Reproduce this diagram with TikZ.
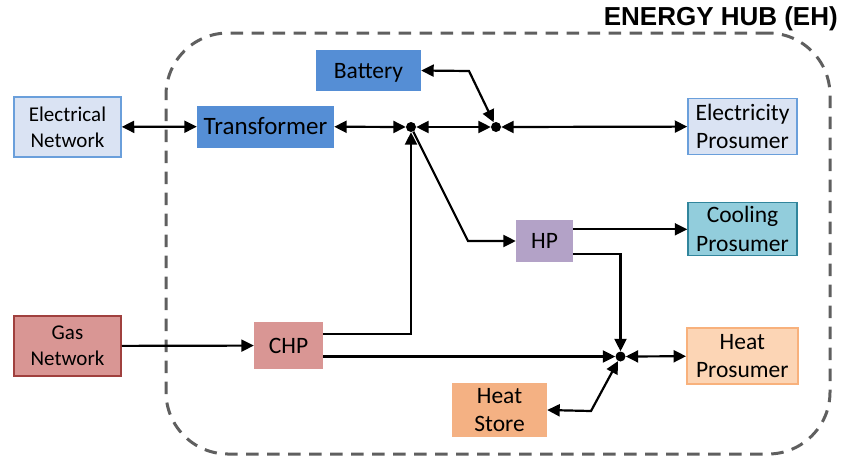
\documentclass[tikz,border=0pt]{standalone}
\usepackage{fontspec}
\setmainfont{Carlito}
\newfontfamily\titlefont{Liberation Sans}
\usetikzlibrary{arrows.meta}

\definecolor{elecfill}{HTML}{DAE3F3}
\definecolor{elecline}{HTML}{6A9FDB}
\definecolor{unitblue}{HTML}{558ED5}
\definecolor{coolfill}{HTML}{92CDDC}
\definecolor{coolline}{HTML}{31859C}
\definecolor{hpfill}{HTML}{B3A2C7}
\definecolor{gasfill}{HTML}{D99694}
\definecolor{gasline}{HTML}{A0403E}
\definecolor{heatfill}{HTML}{FCD5B5}
\definecolor{heatline}{HTML}{F8B17C}
\definecolor{storefill}{HTML}{F4B183}
\definecolor{hubline}{HTML}{5F5F5F}

\begin{document}
\begin{tikzpicture}[x=1pt,y=-1pt,
  box/.style={inner sep=0pt, align=center, text=black,
    font=\fontsize{23.5}{28.5}\selectfont},
  oneline/.style={text height=15.2pt, text depth=0pt},
  netfont/.style={font=\fontsize{21}{26}\selectfont},
  tip/.tip={Triangle[length=12.5pt,width=12pt]},
  flow/.style={line width=2.2pt, -tip},
  biflow/.style={line width=2.2pt, tip-tip},
  junc/.style={circle, fill=black, inner sep=0pt, minimum size=10pt},
  hub/.style={draw=hubline, line width=3pt, dash pattern=on 12.5pt off 8.5pt,
    rounded corners=62pt, inner sep=0pt}
]
\useasboundingbox (0,0) rectangle (845,459);

% energy hub boundary and its title
\node[hub, minimum width=664pt, minimum height=421pt] (hub) at (498,243.5) {};
\node[anchor=base east, inner sep=0pt,
      font=\titlefont\bfseries\fontsize{26}{30}\selectfont] (title) at (838,25.5) {ENERGY HUB (EH)};

% networks outside the hub
\node[box, netfont, draw=elecline, line width=1.5pt, fill=elecfill,
      minimum width=107pt, minimum height=60pt] (elec) at (67.5,127) {Electrical\\Network};
\node[box, netfont, draw=gasline, line width=1.5pt, fill=gasfill,
      minimum width=107pt, minimum height=60pt] (gas) at (67.5,346) {Gas\\Network};

% conversion and storage units
\node[box, oneline, text height=16.2pt, fill=unitblue, minimum width=137pt, minimum height=42pt,
      font=\fontsize{25}{30}\selectfont] (trafo) at (265.5,126.5) {Transformer};
\node[box, oneline, fill=unitblue, minimum width=105pt, minimum height=41pt] (batt) at (368.5,70.5) {Battery};
\node[box, oneline, fill=hpfill, minimum width=57pt, minimum height=42pt] (hp) at (544.5,241) {HP};
\node[box, oneline, fill=gasfill, minimum width=69pt, minimum height=47pt] (chp) at (288.5,345.5) {CHP};
\node[box, fill=storefill, minimum width=95pt, minimum height=54pt] (hstore) at (499.5,410) {Heat\\Store};

% prosumers
\node[box, draw=elecline, line width=1.5pt, fill=elecfill,
      minimum width=109pt, minimum height=56pt] (eprod) at (742.5,126.5) {Electricity\\Prosumer};
\node[box, draw=coolline, line width=1.5pt, fill=coolfill,
      minimum width=109pt, minimum height=53pt] (cool) at (742.5,229) {Cooling\\Prosumer};
\node[box, draw=heatline, line width=1.5pt, fill=heatfill,
      minimum width=111pt, minimum height=56pt] (hprod) at (742.3,356) {Heat\\Prosumer};

% busbars
\node[junc] (j1) at (411,127) {};
\node[junc] (j2) at (496,127) {};
\node[junc] (j3) at (620.5,356.5) {};

\coordinate (battbend) at (469,71);
\coordinate (hpbend) at (468,241);
\coordinate (storebend) at (591,411);

% electricity
\draw[biflow] (elec) -- (trafo);
\draw[biflow] (trafo) -- (j1);
\draw[biflow] (j1) -- (j2);
\draw[biflow] (j2) -- (eprod);
\draw[biflow] (batt.east) -- (battbend) -- (j2);
\draw[flow] ([yshift=11.5pt]chp.east) -| (j1);
\draw[flow] (j1) -- (hpbend) -- (hp.west);

% gas and heat
\draw[flow] (gas) -- (chp);
\draw[flow] ([yshift=-11pt]chp.east) -- (j3);
\draw[flow] ([yshift=11.7pt]hp.east) -- ([yshift=11.7pt]hp.east -| cool.west);
\draw[flow] ([yshift=-13.3pt]hp.east) -| (j3);
\draw[biflow] (j3) -- (hprod);
\draw[biflow] (hstore.east) -- (storebend) -- (j3);
\end{tikzpicture}
\end{document}
